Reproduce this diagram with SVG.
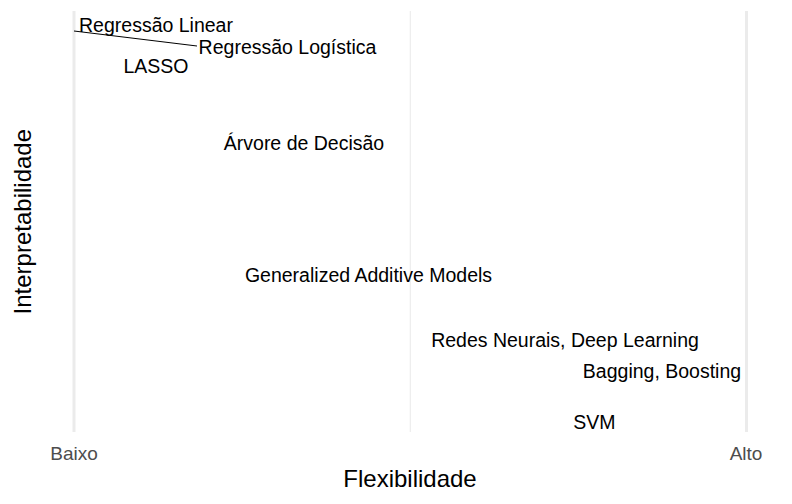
<svg xmlns="http://www.w3.org/2000/svg" width="792" height="504" viewBox="0 0 792 504">
<style>
.grid{stroke:#EBEBEB;fill:none}
.lbl{font-family:"Liberation Sans",Arial,sans-serif;font-size:19.5px;fill:#000;text-anchor:middle}
.tick{font-family:"Liberation Sans",Arial,sans-serif;font-size:19px;fill:#4D4D4D;text-anchor:middle}
.title{font-family:"Liberation Sans",Arial,sans-serif;font-size:24px;fill:#000;text-anchor:middle}
</style>
<rect width="792" height="504" fill="#fff"/>
<g id="grid">
<line class="grid" x1="410.3" y1="11" x2="410.3" y2="432" stroke-width="1.1"/>
<line class="grid" x1="74" y1="11" x2="74" y2="432" stroke-width="3"/>
<line class="grid" x1="746.5" y1="11" x2="746.5" y2="432" stroke-width="3"/>
</g>
<g id="connectors">
<line x1="74" y1="31" x2="197" y2="46" stroke="#000" stroke-width="1"/>
</g>
<g id="node-reg-linear"><text class="lbl" x="156" y="31.5">Regressão Linear</text></g>
<g id="node-reg-logistica"><text class="lbl" x="287.5" y="53.5">Regressão Logística</text></g>
<g id="node-lasso"><text class="lbl" x="156" y="72.5">LASSO</text></g>
<g id="node-arvore"><text class="lbl" x="304" y="150">Árvore de Decisão</text></g>
<g id="node-gam"><text class="lbl" x="368.5" y="281.5">Generalized Additive Models</text></g>
<g id="node-redes"><text class="lbl" x="565" y="346.5">Redes Neurais, Deep Learning</text></g>
<g id="node-bagging"><text class="lbl" x="662" y="378">Bagging, Boosting</text></g>
<g id="node-svm"><text class="lbl" x="594.5" y="428.5">SVM</text></g>
<g id="axes">
<text class="tick" x="74" y="460">Baixo</text>
<text class="tick" x="746" y="460">Alto</text>
<text class="title" x="410" y="487">Flexibilidade</text>
<text class="title" transform="translate(31,221.7) rotate(-90)" x="0" y="0">Interpretabilidade</text>
</g>
</svg>
